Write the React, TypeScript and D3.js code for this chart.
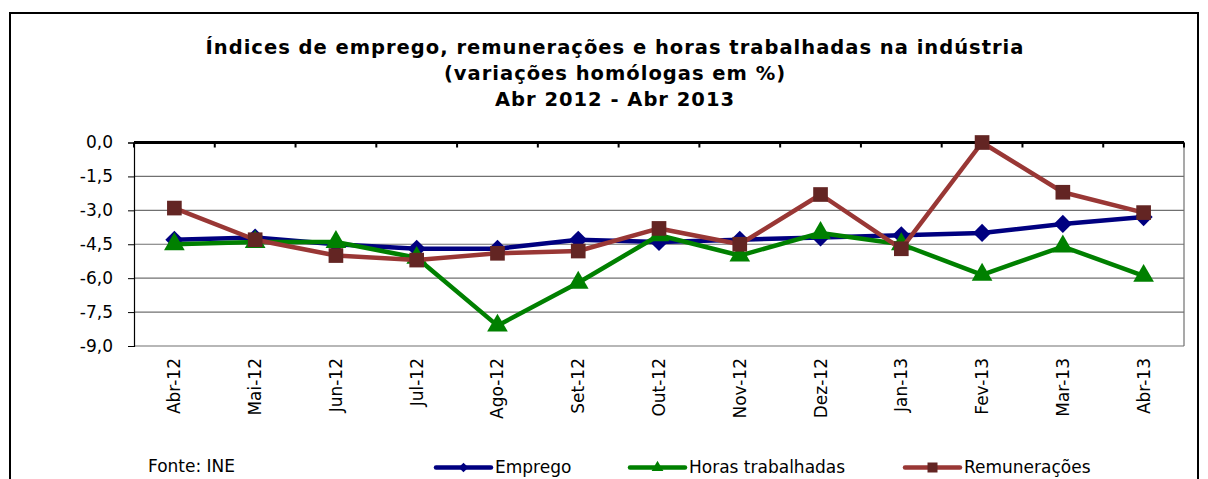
import React, { useRef, useEffect } from 'react';
import * as d3 from 'd3';

const months = ['Abr-12', 'Mai-12', 'Jun-12', 'Jul-12', 'Ago-12', 'Set-12', 'Out-12', 'Nov-12', 'Dez-12', 'Jan-13', 'Fev-13', 'Mar-13', 'Abr-13'];
const emprego = [-4.3, -4.2, -4.5, -4.7, -4.7, -4.3, -4.4, -4.3, -4.2, -4.1, -4.0, -3.6, -3.3];
const horas = [-4.5, -4.4, -4.4, -5.1, -8.1, -6.2, -4.1, -5.0, -4.0, -4.5, -5.85, -4.6, -5.9];
const remuneracoes = [-2.9, -4.3, -5.0, -5.2, -4.9, -4.8, -3.8, -4.5, -2.3, -4.7, 0.0, -2.2, -3.1];
const yTicks = [0, -1.5, -3, -4.5, -6, -7.5, -9];
const titleLines = [
  'Índices de emprego, remunerações e horas trabalhadas na indústria',
  '(variações homólogas em %)',
  'Abr 2012 - Abr 2013',
];

const App: React.FC = () => {
  const svgRef = useRef<SVGSVGElement | null>(null);

  useEffect(() => {
    if (!svgRef.current) return;
    const svg = d3.select(svgRef.current);
    svg.selectAll('*').remove();

    const font = '"DejaVu Sans", sans-serif';
    const left = 134, right = 1184, top = 142.5, bottom = 346;

    // outer frame
    svg.append('rect')
      .attr('x', 10).attr('y', 13).attr('width', 1188).attr('height', 500)
      .attr('fill', 'white').attr('stroke', '#000').attr('stroke-width', 2);

    svg.append('g').selectAll('text')
      .data(titleLines)
      .enter()
      .append('text')
      .attr('x', 615)
      .attr('y', (d, i) => 54 + i * 26)
      .attr('text-anchor', 'middle')
      .style('font-family', font)
      .style('font-weight', 'bold')
      .style('font-size', '19.5px')
      .style('letter-spacing', '1px')
      .text(d => d);

    const x = d3.scaleBand().domain(months).range([left, right]);
    const y = d3.scaleLinear().domain([-9, 0]).range([bottom, top]);
    const cx = (m: string) => (x(m) ?? 0) + x.bandwidth() / 2;

    // gridlines
    svg.append('g').selectAll('line')
      .data(yTicks)
      .enter()
      .append('line')
      .attr('x1', left).attr('x2', right)
      .attr('y1', d => y(d)).attr('y2', d => y(d))
      .attr('stroke', '#707070').attr('stroke-width', 1.2);

    svg.append('line')
      .attr('x1', right).attr('x2', right).attr('y1', top).attr('y2', bottom)
      .attr('stroke', '#707070').attr('stroke-width', 1.2);

    // y axis
    const yAxis = svg.append('g')
      .attr('transform', `translate(${left},0)`)
      .call(d3.axisLeft(y).tickValues(yTicks).tickSize(6).tickPadding(15)
        .tickFormat(d => d3.format('.1f')(d as number).replace('.', ',').replace('−', '-')));
    yAxis.select('.domain').attr('stroke', '#000').attr('stroke-width', 1.2);
    yAxis.selectAll('.tick line').attr('stroke', '#000');
    yAxis.selectAll('text').style('font-family', font).style('font-size', '17px').attr('fill', '#000');

    // x axis on top (at 0)
    const boundaries = months.map(m => x(m) ?? 0).concat([right]);
    svg.append('g').selectAll('line')
      .data(boundaries)
      .enter()
      .append('line')
      .attr('x1', d => d).attr('x2', d => d)
      .attr('y1', top).attr('y2', top + 5)
      .attr('stroke', '#000').attr('stroke-width', 2);
    svg.append('line')
      .attr('x1', left).attr('x2', right).attr('y1', top).attr('y2', top)
      .attr('stroke', '#000').attr('stroke-width', 3);

    svg.append('g').selectAll('text')
      .data(months)
      .enter()
      .append('text')
      .attr('transform', d => `translate(${cx(d) + 6},358) rotate(-90)`)
      .attr('text-anchor', 'end')
      .style('font-family', font)
      .style('font-size', '17px')
      .text(d => d);

    const series = [
      { name: 'Emprego', values: emprego, line: '#000080', fill: '#000080', symbol: d3.symbolDiamond2, size: 210, legendSize: 60 },
      { name: 'Horas trabalhadas', values: horas, line: '#008000', fill: '#008000', symbol: d3.symbolTriangle, size: 185, legendSize: 60 },
      { name: 'Remunerações', values: remuneracoes, line: '#993735', fill: '#632523', symbol: d3.symbolSquare, size: 215, legendSize: 100 },
    ];

    series.forEach(s => {
      const pts = s.values.map((v, i) => [cx(months[i]), y(v)] as [number, number]);
      svg.append('path')
        .attr('d', d3.line()(pts))
        .attr('fill', 'none')
        .attr('stroke', s.line)
        .attr('stroke-width', 4.5)
        .attr('stroke-linejoin', 'round');
      svg.append('g').selectAll('path')
        .data(pts)
        .enter()
        .append('path')
        .attr('transform', d => `translate(${d[0]},${d[1]})`)
        .attr('d', d3.symbol().type(s.symbol).size(s.size)())
        .attr('fill', s.fill);
    });

    // footer
    svg.append('text')
      .attr('x', 148).attr('y', 472)
      .style('font-family', font).style('font-size', '17px')
      .text('Fonte: INE');

    const legendX = [436, 630, 905];
    series.forEach((s, i) => {
      const g = svg.append('g').attr('transform', `translate(${legendX[i]},467.5)`);
      g.append('line').attr('x1', 0).attr('x2', 55).attr('y1', 0).attr('y2', 0)
        .attr('stroke', s.line).attr('stroke-width', 4.5).attr('stroke-linecap', 'round');
      g.append('path')
        .attr('transform', 'translate(27.5,0)')
        .attr('d', d3.symbol().type(s.symbol).size(s.legendSize)())
        .attr('fill', s.fill);
      g.append('text').attr('x', 59).attr('y', 5.5)
        .style('font-family', font).style('font-size', '17px')
        .text(s.name);
    });
  }, []);

  return (
    <svg
      ref={svgRef}
      width={1208}
      height={479}
      style={{ position: 'absolute', left: 0, top: 0, background: 'white' }}
    />
  );
};

export default App;
